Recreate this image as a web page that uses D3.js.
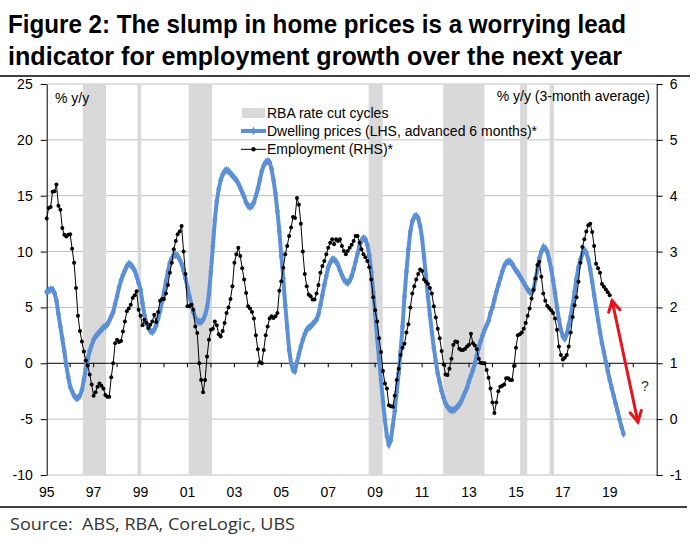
<!DOCTYPE html>
<html><head><meta charset="utf-8">
<script src="https://cdn.jsdelivr.net/npm/d3@7"></script>
<style>body{margin:0;background:#fff} svg{display:block}</style>
</head><body><svg id="c" width="700" height="550"></svg>
<script>
// ---- data ----
const startYear = 1995; // monthly series start Jan 1995
// Dwelling prices, % y/y (LHS, advanced 6 months)
const dwelling = [
 6.4, 6.5, 6.6, 6.6, 6.3, 5.6, 4.4, 3.3, 2.2, 1.1, -0.2, -1.2,
 -2.1, -2.5, -2.9, -3.1, -3.1, -2.9, -2.4, -1.5, -0.5, 0.4, 1.1, 1.6,
 2.1, 2.4, 2.6, 2.8, 3.0, 3.2, 3.3, 3.5, 3.8, 4.2, 4.6, 5.3,
 6.0, 6.8, 7.4, 7.9, 8.3, 8.7, 8.9, 8.8, 8.6, 8.3, 7.8, 7.2,
 6.6, 5.4, 4.3, 3.6, 3.2, 2.9, 2.8, 3.0, 3.4, 4.0, 4.7, 5.5,
 6.4, 7.3, 8.2, 9.0, 9.4, 9.7, 9.7, 9.6, 9.3, 8.9, 8.3, 7.6,
 6.8, 6.0, 5.3, 4.6, 4.1, 3.8, 3.7, 3.7, 3.9, 4.3, 5.0, 6.2,
 8.2, 10.5, 12.8, 14.5, 15.6, 16.4, 16.9, 17.2, 17.3, 17.2, 17.0, 16.8,
 16.6, 16.4, 16.1, 15.7, 15.3, 14.9, 14.4, 14.1, 14.0, 14.1, 14.4, 15.0,
 15.6, 16.4, 17.2, 17.7, 18.0, 18.1, 18.0, 17.4, 16.4, 15.2, 13.6, 11.8,
 9.6, 7.6, 5.2, 3.2, 1.2, 0.0, -0.6, -0.7, 0.1, 0.8, 1.5, 2.1,
 2.6, 3.0, 3.2, 3.3, 3.5, 3.7, 3.9, 4.4, 5.2, 6.1, 7.0, 7.8,
 8.6, 9.0, 9.3, 9.3, 9.1, 8.8, 8.3, 7.9, 7.5, 7.3, 7.2, 7.4,
 7.8, 8.4, 9.1, 9.8, 10.5, 11.0, 11.2, 11.1, 10.6, 9.7, 8.2, 6.4,
 4.4, 2.3, 0.4, -1.5, -3.4, -5.1, -6.5, -7.3, -6.9, -5.6, -4.3, -2.6,
 -0.9, 1.0, 3.3, 6.0, 8.2, 10.2, 11.8, 12.7, 13.1, 13.2, 13.0, 12.3,
 11.2, 9.5, 7.8, 6.0, 4.3, 2.8, 1.4, 0.2, -0.9, -1.7, -2.5, -3.1,
 -3.6, -3.9, -4.1, -4.2, -4.2, -4.1, -3.9, -3.7, -3.4, -3.0, -2.6, -2.2,
 -1.6, -1.1, -0.6, 0.0, 0.7, 1.4, 2.0, 2.5, 3.0, 3.4, 3.8, 4.5,
 5.0, 5.7, 6.4, 7.0, 7.6, 8.2, 8.7, 9.0, 9.1, 9.1, 8.9, 8.6,
 8.3, 8.1, 7.8, 7.5, 7.2, 6.9, 6.6, 6.4, 6.3, 6.6, 7.5, 8.4,
 9.4, 10.0, 10.4, 10.3, 10.0, 9.3, 8.5, 7.4, 6.3, 5.0, 3.9, 3.0,
 2.4, 2.2, 2.6, 3.4, 4.2, 5.2, 6.4, 7.6, 8.6, 9.3, 9.8, 10.1,
 9.9, 9.3, 8.4, 7.3, 6.1, 5.0, 3.9, 2.8, 1.8, 1.0, 0.1, -0.7,
 -1.5, -2.2, -2.9, -3.6, -4.3, -5.0, -5.7, -6.3
];
// Employment, % y/y 3-month average (RHS)
const employment = [
 3.59, 3.78, 3.80, 4.07, 4.08, 4.20, 3.82, 3.75, 3.42, 3.30, 3.27, 3.30,
 3.31, 3.05, 2.80, 2.35, 1.85, 1.58, 1.39, 1.21, 1.05, 0.96, 0.80, 0.62,
 0.42, 0.48, 0.58, 0.64, 0.60, 0.55, 0.43, 0.40, 0.40, 0.75, 1.00, 1.36,
 1.42, 1.38, 1.40, 1.57, 1.75, 1.93, 1.98, 2.05, 2.17, 2.22, 2.29, 1.96,
 1.85, 1.68, 1.78, 1.72, 1.63, 1.69, 1.75, 1.87, 1.74, 1.92, 2.12, 2.15,
 2.15, 2.25, 2.40, 2.62, 2.80, 3.04, 3.19, 3.31, 3.36, 3.46, 3.00, 2.60,
 2.02, 2.02, 2.05, 1.96, 1.66, 1.54, 1.00, 0.70, 0.48, 0.70, 1.12, 1.42,
 1.60, 1.62, 1.75, 1.68, 1.52, 1.48, 1.58, 1.72, 1.90, 2.00, 2.15, 2.38,
 2.80, 2.95, 3.07, 2.92, 2.70, 2.50, 2.26, 2.02, 1.98, 1.92, 1.80, 1.50,
 1.25, 1.02, 1.00, 1.24, 1.50, 1.66, 1.80, 1.84, 1.81, 1.84, 1.90, 2.30,
 2.47, 2.71, 2.95, 3.10, 3.28, 3.43, 3.62, 3.60, 3.96, 3.84, 3.50, 3.00,
 2.60, 2.38, 2.23, 2.20, 2.14, 2.14, 2.25, 2.40, 2.62, 2.74, 2.83, 2.95,
 3.07, 3.16, 3.22, 3.13, 3.22, 3.19, 3.22, 3.10, 3.01, 2.95, 3.01, 3.07,
 3.12, 3.19, 3.28, 3.28, 3.16, 3.04, 2.95, 2.90, 2.83, 2.72, 2.50, 2.18,
 1.95, 1.75, 1.45, 1.20, 0.86, 0.64, 0.55, 0.25, 0.23, 0.22, 0.42, 0.70,
 0.90, 1.15, 1.28, 1.35, 1.55, 1.70, 2.00, 2.25, 2.38, 2.50, 2.60, 2.68,
 2.65, 2.50, 2.46, 2.42, 2.35, 2.25, 2.02, 1.82, 1.62, 1.45, 1.22, 0.98,
 0.80, 0.79, 0.90, 1.08, 1.33, 1.39, 1.38, 1.26, 1.24, 1.24, 1.26, 1.30,
 1.33, 1.53, 1.36, 1.32, 1.25, 1.08, 1.01, 1.00, 1.00, 0.88, 0.74, 0.55,
 0.30, 0.11, 0.30, 0.50, 0.58, 0.60, 0.62, 0.73, 0.73, 0.70, 0.70, 0.95,
 1.28, 1.50, 1.52, 1.55, 1.62, 1.72, 1.85, 1.98, 2.16, 2.31, 2.52, 2.76,
 2.82, 2.55, 2.25, 2.12, 2.03, 1.99, 1.95, 1.90, 1.80, 1.60, 1.30, 1.15,
 1.07, 1.10, 1.15, 1.30, 1.55, 1.83, 2.04, 2.18, 2.46, 2.80, 3.08, 3.22,
 3.36, 3.47, 3.50, 3.35, 3.10, 2.78, 2.70, 2.62, 2.42, 2.37, 2.32, 2.27,
 2.22
];
// RBA rate cut cycles (start, end) in decimal years
const cutStarts = [1996.54, 1998.87, 2001.05, 2008.72, 2011.90, 2015.18, 2016.44];
const cutEnds   = [1997.53, 1999.03, 2002.05, 2009.32, 2013.66, 2015.48, 2016.62];
const leftTicks = [-10, -5, 0, 5, 10, 15, 20, 25];
const rightTicks = [-1, 0, 1, 2, 3, 4, 5, 6];
const xLabelYears = [1995, 1997, 1999, 2001, 2003, 2005, 2007, 2009, 2011, 2013, 2015, 2017, 2019];
const xLabels = ["95", "97", "99", "01", "03", "05", "07", "09", "11", "13", "15", "17", "19"];
const arrowFrom = [2019.1, 2.12];  // [year, RHS value]
const arrowTo = [2020.2, -0.05];

// ---- drawing ----
const svg = d3.select("#c");
const FONT = "'Liberation Sans', Arial, sans-serif";
const FS = 14;
const L = 46.7, R = 656.7, T = 84, B = 475;
const x = d3.scaleLinear().domain([1995, 2021]).range([L, R]);
const yL = d3.scaleLinear().domain([-10, 25]).range([B, T]);
const yR = d3.scaleLinear().domain([-1, 6]).range([B, T]);
const BLUE = "#5b8fd6";

// title
const title = svg.append("g").attr("font-family", FONT)
  .attr("font-weight", 700).attr("font-size", 26).attr("fill", "#000");
title.append("text").attr("x", 8).attr("y", 33).attr("textLength", 618).attr("lengthAdjust", "spacingAndGlyphs")
  .text("Figure 2: The slump in home prices is a worrying lead");
title.append("text").attr("x", 8).attr("y", 65).attr("textLength", 614).attr("lengthAdjust", "spacingAndGlyphs")
  .text("indicator for employment growth over the next year");
svg.append("line").attr("x1", 0).attr("x2", 690).attr("y1", 76).attr("y2", 76).attr("stroke", "#000").attr("stroke-width", 1.5);
svg.append("line").attr("x1", 0).attr("x2", 687).attr("y1", 507).attr("y2", 507).attr("stroke", "#000").attr("stroke-width", 1.5);
svg.append("text").attr("x", 10).attr("y", 530).attr("font-family", "'Open Sans', 'Noto Sans', sans-serif")
  .attr("font-size", 17).attr("fill", "#333").attr("textLength", 285).attr("lengthAdjust", "spacingAndGlyphs")
  .style("white-space", "pre").text("Source:  ABS, RBA, CoreLogic, UBS");

// gridlines
svg.append("g").selectAll("line").data(leftTicks.filter(d => d !== 0)).join("line")
  .attr("x1", L).attr("x2", R).attr("y1", d => yL(d)).attr("y2", d => yL(d))
  .attr("stroke", "#bfbfbf").attr("stroke-width", 1);

// rate cut cycles
svg.append("g").selectAll("rect").data(cutStarts).join("rect")
  .attr("x", d => x(d)).attr("width", (d, i) => x(cutEnds[i]) - x(d))
  .attr("y", T).attr("height", B - T).attr("fill", "#d9d9d9");

// zero line with yearly ticks
svg.append("line").attr("x1", L).attr("x2", R).attr("y1", yL(0)).attr("y2", yL(0)).attr("stroke", "#000");
svg.append("g").selectAll("line").data(d3.range(1996, 2021)).join("line")
  .attr("x1", d => x(d)).attr("x2", d => x(d)).attr("y1", yL(0)).attr("y2", yL(0) + 4).attr("stroke", "#000");

// axes
const fmt = d => String(d);
const axL = svg.append("g").attr("transform", `translate(${L},0)`)
  .call(d3.axisLeft(yL).tickValues(leftTicks).tickSize(6).tickSizeOuter(0).tickPadding(8).tickFormat(fmt));
const axR = svg.append("g").attr("transform", `translate(${R},0)`)
  .call(d3.axisRight(yR).tickValues(rightTicks).tickSize(6).tickSizeOuter(0).tickPadding(7).tickFormat(fmt));
[axL, axR].forEach(a => {
  a.selectAll("text").attr("font-family", FONT).attr("font-size", FS).attr("fill", "#000");
  a.select(".domain").attr("stroke", "#000");
  a.selectAll(".tick line").attr("stroke", "#000");
});
svg.append("g").selectAll("text").data(xLabelYears).join("text")
  .attr("x", d => x(d)).attr("y", 497).attr("text-anchor", "middle")
  .attr("font-family", FONT).attr("font-size", FS).attr("fill", "#000")
  .text((d, i) => xLabels[i]);

// axis unit labels
svg.append("text").attr("x", 55).attr("y", 103).attr("font-family", FONT).attr("font-size", FS).text("% y/y");
svg.append("text").attr("x", 650).attr("y", 101).attr("text-anchor", "end").attr("font-family", FONT).attr("font-size", FS).text("% y/y (3-month average)");

// series
const dData = dwelling.map((v, i) => ({ t: startYear + i / 12, v }));
const eData = employment.map((v, i) => ({ t: startYear + i / 12, v }));
svg.append("path").datum(dData)
  .attr("d", d3.line().x(d => x(d.t)).y(d => yL(d.v)))
  .attr("fill", "none").attr("stroke", BLUE).attr("stroke-width", 4).attr("stroke-linejoin", "round");
const diamond = d3.symbol().type(d3.symbolDiamond).size(22);
svg.append("g").selectAll("path").data(dData).join("path")
  .attr("transform", d => `translate(${x(d.t)},${yL(d.v)})`).attr("d", diamond).attr("fill", BLUE);

svg.append("path").datum(eData)
  .attr("d", d3.line().x(d => x(d.t)).y(d => yR(d.v)))
  .attr("fill", "none").attr("stroke", "#000").attr("stroke-width", 1);
svg.append("g").selectAll("circle").data(eData).join("circle")
  .attr("cx", d => x(d.t)).attr("cy", d => yR(d.v)).attr("r", 2).attr("fill", "#000");

// legend
const lg = svg.append("g").attr("font-family", FONT).attr("font-size", FS).attr("fill", "#000");
lg.append("rect").attr("x", 242).attr("y", 108).attr("width", 23).attr("height", 10).attr("fill", "#d9d9d9");
lg.append("text").attr("x", 267).attr("y", 118).text("RBA rate cut cycles");
lg.append("line").attr("x1", 241).attr("x2", 266).attr("y1", 131).attr("y2", 131).attr("stroke", BLUE).attr("stroke-width", 4);
lg.append("path").attr("transform", "translate(253.5,131)").attr("d", diamond).attr("fill", BLUE);
lg.append("text").attr("x", 267).attr("y", 136).text("Dwelling prices (LHS, advanced 6 months)*");
lg.append("line").attr("x1", 241).attr("x2", 266).attr("y1", 149.3).attr("y2", 149.3).attr("stroke", "#000");
lg.append("circle").attr("cx", 253.5).attr("cy", 149.3).attr("r", 2.2).attr("fill", "#000");
lg.append("text").attr("x", 267).attr("y", 154.3).text("Employment (RHS)*");

// red double-headed arrow
const ax1 = x(arrowFrom[0]), ay1 = yR(arrowFrom[1]), ax2 = x(arrowTo[0]), ay2 = yR(arrowTo[1]);
const ang = Math.atan2(ay2 - ay1, ax2 - ax1);
const red = svg.append("g").attr("stroke", "#e8141b").attr("stroke-width", 3).attr("fill", "none").attr("stroke-linecap", "round");
red.append("line").attr("x1", ax1).attr("y1", ay1).attr("x2", ax2).attr("y2", ay2);
function head(px, py, a) {
  const len = 12, spread = 0.5;
  const p1 = [px - len * Math.cos(a - spread), py - len * Math.sin(a - spread)];
  const p2 = [px - len * Math.cos(a + spread), py - len * Math.sin(a + spread)];
  red.append("path").attr("d", `M${p1[0]},${p1[1]}L${px},${py}L${p2[0]},${p2[1]}`).attr("stroke-linejoin", "miter");
}
head(ax2, ay2, ang);
head(ax1, ay1, ang + Math.PI);
svg.append("text").attr("x", 645).attr("y", 391).attr("text-anchor", "middle").attr("font-family", FONT)
  .attr("font-size", FS).attr("fill", "#333").text("?");
</script>
</body></html>
